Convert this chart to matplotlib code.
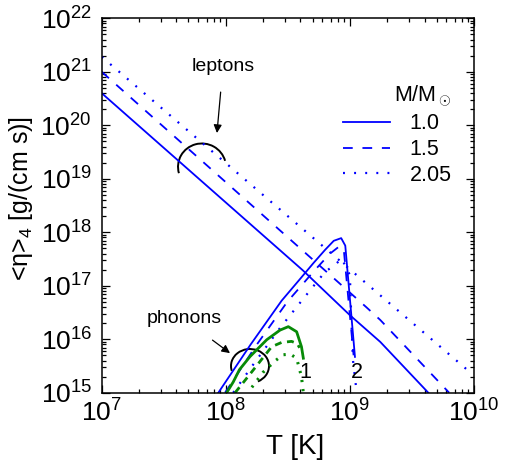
import numpy as np
import matplotlib
matplotlib.use("Agg")
import matplotlib.pyplot as plt
from matplotlib.patches import Arc
from matplotlib.ticker import FixedLocator, LogLocator, LogFormatterMathtext, NullFormatter

plt.rcParams['font.family'] = ['Liberation Sans', 'DejaVu Sans']
plt.rcParams['mathtext.fontset'] = 'custom'
plt.rcParams['mathtext.rm'] = 'Liberation Sans'
plt.rcParams['mathtext.it'] = 'Liberation Sans:italic'
plt.rcParams['lines.scale_dashes'] = False

# ---- data (log10 values) ----
# lepton contribution
lep_solid_logT = [7.0, 8.62, 9.0, 9.245, 9.632]
lep_solid_logeta = [20.60, 17.29, 16.45, 15.95, 15.0]
lep_dash_logT = [7.0, 9.132, 9.245, 9.80]
lep_dash_logeta = [21.0, 16.60, 16.36, 15.0]
lep_dot_logT = [7.0, 9.97]
lep_dot_logeta = [21.28, 15.38]

# phonon contribution, curve set 2 (blue)
ph2_solid_logT = [7.94, 8.2, 8.45, 8.6, 8.705, 8.8, 8.87, 8.93, 8.963, 9.041]
ph2_solid_logeta = [15.0, 15.9, 16.72, 17.13, 17.42, 17.67, 17.84, 17.89, 17.75, 15.67]
ph2_dash_logT = [7.994, 8.25, 8.496, 8.62, 8.705, 8.84, 8.906, 8.95, 9.03]
ph2_dash_logeta = [15.0, 15.9, 16.70, 17.03, 17.26, 17.60, 17.72, 17.70, 15.70]
ph2_dot_logT = [8.06, 8.219, 8.437, 8.598, 8.80, 8.88, 8.934, 9.0, 9.015, 9.025, 9.055]
ph2_dot_logeta = [15.0, 15.52, 16.21, 16.68, 17.26, 17.39, 17.51, 17.20, 16.17, 15.61, 15.0]

# phonon contribution, curve set 1 (green)
ph1_solid_logT = [8.007, 8.06, 8.11, 8.195, 8.33, 8.437, 8.504, 8.571, 8.61, 8.625]
ph1_solid_logeta = [15.0, 15.2, 15.43, 15.675, 15.99, 16.17, 16.235, 16.14, 15.86, 15.645]
ph1_dash_logT = [8.075, 8.196, 8.37, 8.45, 8.53, 8.575, 8.595]
ph1_dash_logeta = [15.0, 15.35, 15.86, 15.94, 15.96, 15.92, 15.84]
ph1_dot_logT = [8.21, 8.30, 8.40, 8.463, 8.52, 8.571, 8.61, 8.625]
ph1_dot_logeta = [15.1, 15.38, 15.60, 15.71, 15.72, 15.645, 15.3, 15.0]

x_tick_exps = [7, 8, 9, 10]
y_tick_exps = [15, 16, 17, 18, 19, 20, 21, 22]
legend_labels = ['1.0', '1.5', '2.05']
legend_title = r'M/M$_\odot$'

def p(a):
    return 10.0 ** np.asarray(a, dtype=float)

BLUE = '#0000ff'
GREEN = '#078a07'
dash_b = (0, (7, 7))
dot_b = (0, (1.4, 6.6))
dash_g = (0, (5, 4))
dot_g = (0, (1.6, 5))

fig = plt.figure(figsize=(5.12, 4.63), dpi=100)
ax = fig.add_axes([0.1986, 0.1518, 0.7271, 0.8087])

l1, = ax.plot(p(lep_solid_logT), p(lep_solid_logeta), color=BLUE, lw=1.3, ls='-')
l2, = ax.plot(p(lep_dash_logT), p(lep_dash_logeta), color=BLUE, lw=1.3, ls=dash_b)
l3, = ax.plot(p(lep_dot_logT), p(lep_dot_logeta), color=BLUE, lw=1.6, ls=dot_b)

ax.plot(p(ph2_solid_logT), p(ph2_solid_logeta), color=BLUE, lw=1.3, ls='-')
ax.plot(p(ph2_dash_logT), p(ph2_dash_logeta), color=BLUE, lw=1.3, ls=dash_b)
ax.plot(p(ph2_dot_logT), p(ph2_dot_logeta), color=BLUE, lw=1.6, ls=dot_b)

ax.plot(p(ph1_solid_logT), p(ph1_solid_logeta), color=GREEN, lw=2.0, ls='-')
ax.plot(p(ph1_dash_logT), p(ph1_dash_logeta), color=GREEN, lw=2.0, ls=dash_g)
ax.plot(p(ph1_dot_logT), p(ph1_dot_logeta), color=GREEN, lw=2.2, ls=dot_g)

ax.set_xscale('log')
ax.set_yscale('log')
ax.set_xlim(1e7, 1e10)
ax.set_ylim(1e15, 1e22)
ax.xaxis.set_major_locator(FixedLocator(p(x_tick_exps)))
ax.yaxis.set_major_locator(FixedLocator(p(y_tick_exps)))
for axis in (ax.xaxis, ax.yaxis):
    axis.set_minor_locator(LogLocator(base=10, subs=np.arange(2, 10), numticks=30))
    axis.set_major_formatter(LogFormatterMathtext())
    axis.set_minor_formatter(NullFormatter())

ax.tick_params(which='both', direction='in', top=True, right=True, width=0.9)
ax.tick_params(which='major', length=6, labelsize=19, pad=5)
ax.tick_params(which='minor', length=3)
ax.tick_params(axis='y', which='major', pad=7)
for s in ax.spines.values():
    s.set_linewidth(1.1)

ax.set_xlabel('T [K]', fontsize=20, labelpad=5, x=0.52)
ax.set_ylabel(r'<η>$_4$ [g/(cm s)]', fontsize=18, labelpad=4, y=0.52)

leg = ax.legend([l1, l2, l3], legend_labels, title=legend_title, frameon=False,
                fontsize=15.5, title_fontsize=15.5, loc='upper left',
                bbox_to_anchor=(0.625, 0.85), handlelength=2.2, handletextpad=0.9,
                labelspacing=0.22, alignment='right', borderaxespad=0.0)

# annotations
ax.text(10**8.638, 10**15.37, '1', fontsize=15.5, ha='center', va='center')
ax.text(10**9.057, 10**15.37, '2', fontsize=15.5, ha='center', va='center')

ax.annotate('leptons', xy=(10**7.929, 10**19.855), xytext=(10**7.977, 10**21.09),
            fontsize=14, ha='center', va='center',
            arrowprops=dict(arrowstyle='-|>', color='black', lw=0.9,
                            mutation_scale=12, shrinkA=10, shrinkB=0))
ax.annotate('phonons', xy=(10**8.034, 10**15.74), xytext=(10**7.663, 10**16.38),
            fontsize=14, ha='center', va='center',
            arrowprops=dict(arrowstyle='-|>', color='black', lw=0.9,
                            mutation_scale=12, shrinkA=12, shrinkB=0))

H = 4.63
ax.add_patch(Arc((2.02, H - 1.67), 0.48, 0.47, angle=-10, theta1=25, theta2=205,
                 transform=fig.dpi_scale_trans, color='black', lw=1.4, clip_on=False))
ax.add_patch(Arc((2.50, H - 3.66), 0.38, 0.34, angle=0, theta1=-63, theta2=195,
                 transform=fig.dpi_scale_trans, color='black', lw=1.4, clip_on=False))

fig.savefig('out.png', dpi=100)
